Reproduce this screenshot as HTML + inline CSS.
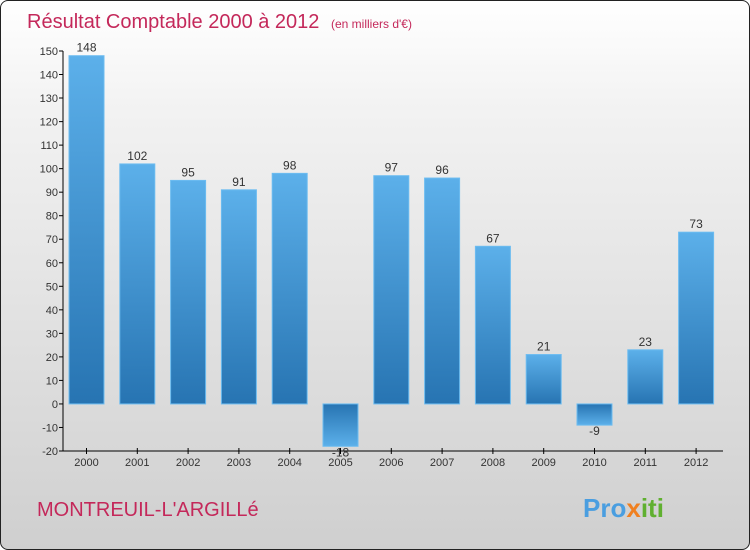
<!DOCTYPE html>
<html><head><meta charset="utf-8"><style>
body{margin:0;width:750px;height:550px;overflow:hidden;font-family:"Liberation Sans",sans-serif}
#wrap{position:absolute;left:0;top:0;width:748px;height:548px;border:1px solid #222;border-radius:8px;background:linear-gradient(#ffffff,#f2f2f2 20%,#d8d8d8 80%,#cfcfcf);overflow:hidden}
</style></head><body>
<div id="wrap">
<svg width="750" height="550">
<defs>
<linearGradient id="gp" x1="0" y1="0" x2="0" y2="1"><stop offset="0" stop-color="#5cb0ea"/><stop offset="1" stop-color="#2774b2"/></linearGradient>
<linearGradient id="gn" x1="0" y1="0" x2="0" y2="1"><stop offset="0" stop-color="#2774b2"/><stop offset="1" stop-color="#5cb0ea"/></linearGradient>
</defs>
<text x="26" y="27" font-size="20" fill="#c4285a">Résultat Comptable 2000 à 2012 <tspan font-size="12" dx="6">(en milliers d'€)</tspan></text>
<g id="axes"></g><g id="bars"></g>
<text x="36" y="515" font-size="20" fill="#c4285a">MONTREUIL-L'ARGILLé</text>
<text x="582" y="516" font-size="26" font-weight="bold" fill="#3a8fd0"><tspan fill="#4a9ee0">Pro</tspan><tspan fill="#f08020">x</tspan><tspan fill="#60b030">iti</tspan></text>
</svg></div>
<script>
const categories=["2000","2001","2002","2003","2004","2005","2006","2007","2008","2009","2010","2011","2012"];
const values=[148,102,95,91,98,-18,97,96,67,21,-9,23,73];
const yTicks=[150,140,130,120,110,100,90,80,70,60,50,40,30,20,10,0,-10,-20];
const NS="http://www.w3.org/2000/svg";
const x0=62,x1=722,yMin=-20,yMax=150,py0=450,py1=50;
const y=v=>py0-(v-yMin)/(yMax-yMin)*(py0-py1);
const step=50.8;
const xc=i=>85.5+step*i;
function mk(t,a,p){const e=document.createElementNS(NS,t);for(const k in a)e.setAttribute(k,a[k]);p.appendChild(e);return e;}
const ax=document.getElementById('axes'),bg=document.getElementById('bars');
let l=mk('line',{x1:x0,x2:x0,y1:py1,y2:py0,stroke:'#000'},ax);


l=mk('line',{x1:x0,x2:x1,y1:py0,y2:py0,stroke:'#000'},ax);


yTicks.forEach(v=>{
 mk('line',{x1:x0-4,x2:x0,y1:y(v),y2:y(v),stroke:'#000'},ax);
 const t=mk('text',{x:x0-5,y:y(v)+4,'font-size':11,'text-anchor':'end',fill:'#333'},ax);t.textContent=v;
 
 
});
categories.forEach((c,i)=>{
 const v=values[i],cx=xc(i),w=35;
 mk('line',{x1:cx,x2:cx,y1:py0-3,y2:py0+3,stroke:'#000'},ax);
 const t=mk('text',{x:cx,y:py0+15,'font-size':11,'text-anchor':'middle',fill:'#333'},ax);t.textContent=c;
 
 
 const top=Math.min(y(v),y(0)),h=Math.abs(y(v)-y(0));
 const r=mk('rect',{x:cx-w/2,y:top,width:w,height:h,fill:v>=0?'url(#gp)':'url(#gn)',stroke:'#6cbcf0','stroke-width':1},bg);
 
 
 const lb=mk('text',{x:cx,y:v>=0?y(v)-4:y(v)+10,'font-size':12,'text-anchor':'middle',fill:'#333'},bg);lb.textContent=v;
 
 
});
</script>
</body></html>
